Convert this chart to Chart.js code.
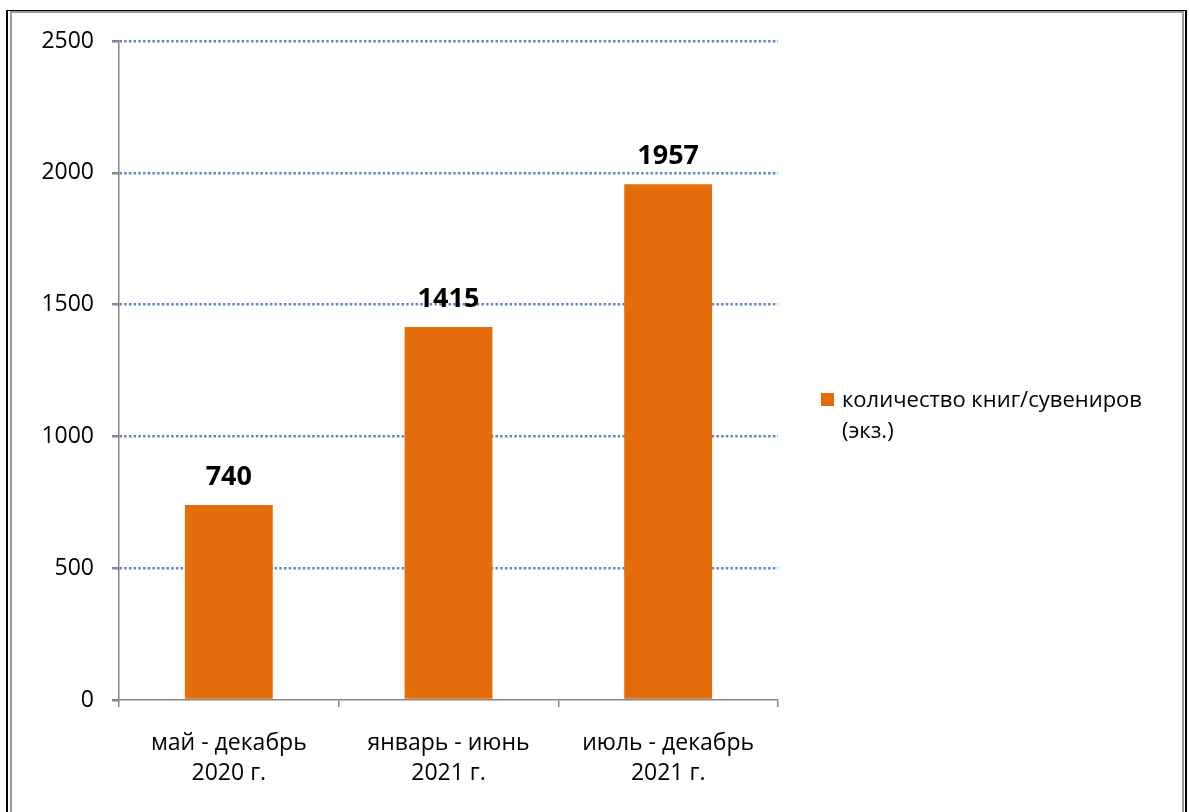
<!DOCTYPE html>
<html>
<head>
<meta charset="utf-8">
<script src="https://cdn.jsdelivr.net/npm/chart.js@4/dist/chart.umd.min.js"></script>
<style>
  html, body { margin: 0; padding: 0; background: #fff; }
  #wrap { position: relative; width: 1189px; height: 812px; }
  #frame1 { position: absolute; left: 6px; top: 10px; width: 1181px; height: 812px; border-left: 2px solid #000; border-right: 2px solid #000; border-top: 1px solid #000; box-sizing: border-box; }
  #frame2 { position: absolute; left: 10px; top: 11px; width: 1174px; height: 812px; border-left: 2px solid #999; border-right: 2px solid #999; border-top: 2px solid #999; box-sizing: border-box; }
  canvas { position: absolute; left: 0; top: 0; }
</style>
</head>
<body>
<div id="wrap">
  <div id="frame1"></div>
  <div id="frame2"></div>
  <canvas id="knigiChart" width="1189" height="812"></canvas>
</div>
<script>
// данные
const periods = [['май - декабрь', '2020 г.'], ['январь - июнь', '2021 г.'], ['июль - декабрь', '2021 г.']];
const kolichestvo = [740, 1415, 1957];
const seriesName = ['количество книг/сувениров', '(экз.)'];
const yTicks = [0, 500, 1000, 1500, 2000, 2500];

const FONT = '"Open Sans", sans-serif';
const orange = '#E46C0A';

// подписи значений над столбцами
const valueLabels = {
  id: 'valueLabels',
  afterDatasetsDraw(chart) {
    const ctx = chart.ctx;
    const meta = chart.getDatasetMeta(0);
    ctx.save();
    ctx.font = 'bold 27px ' + FONT;
    ctx.fillStyle = '#000';
    ctx.textAlign = 'center';
    ctx.textBaseline = 'alphabetic';
    meta.data.forEach(function(bar, i) {
      ctx.fillText(chart.data.datasets[0].data[i], bar.x, bar.y - 20);
    });
    ctx.restore();
  }
};

// легенда справа
const sideLegend = {
  id: 'sideLegend',
  afterDraw(chart) {
    const ctx = chart.ctx;
    ctx.save();
    ctx.fillStyle = orange;
    ctx.fillRect(821, 393, 13, 13);
    ctx.fillStyle = '#000';
    ctx.font = '22px ' + FONT;
    ctx.textAlign = 'left';
    ctx.textBaseline = 'middle';
    seriesName.forEach(function(line, i) {
      ctx.fillText(line, 842, 401 + i * 31);
    });
    ctx.restore();
  }
};

const ctx = document.getElementById('knigiChart').getContext('2d');
new Chart(ctx, {
  type: 'bar',
  data: {
    labels: periods,
    datasets: [{
      label: seriesName.join(' '),
      data: kolichestvo,
      backgroundColor: orange,
      categoryPercentage: 1,
      barPercentage: 0.4
    }]
  },
  options: {
    responsive: false,
    animation: false,
    layout: { padding: { left: 20, top: 41, right: 411, bottom: 0 } },
    plugins: { legend: { display: false }, tooltip: { enabled: false } },
    scales: {
      x: {
        offset: true,
        afterFit: function(scale) { scale.height = 112; },
        grid: { offset: true, drawOnChartArea: false, drawTicks: true, tickLength: 7, color: '#868686', lineWidth: 1.5 },
        border: { color: '#868686', width: 1.5 },
        ticks: { color: '#000', font: { family: FONT, size: 23, lineHeight: 1.3 }, padding: 22, maxRotation: 0 }
      },
      y: {
        min: 0,
        max: 2500,
        afterFit: function(scale) { scale.width = 99; },
        afterBuildTicks: function(scale) { scale.ticks = yTicks.map(function(v) { return { value: v }; }); },
        grid: {
          color: function(c) { return c.tick && c.tick.value === 0 ? 'rgba(0,0,0,0)' : '#5B87C5'; },
          tickColor: '#868686',
          lineWidth: 2.5,
          tickLength: 7,
          tickBorderDash: []
        },
        border: { color: '#868686', width: 1.5, dash: [2.5, 2.2] },
        ticks: {
          color: '#000',
          font: { family: FONT, size: 23 },
          padding: 18,
          callback: function(v) { return String(v); }
        }
      }
    }
  },
  plugins: [valueLabels, sideLegend]
});
</script>
</body>
</html>
